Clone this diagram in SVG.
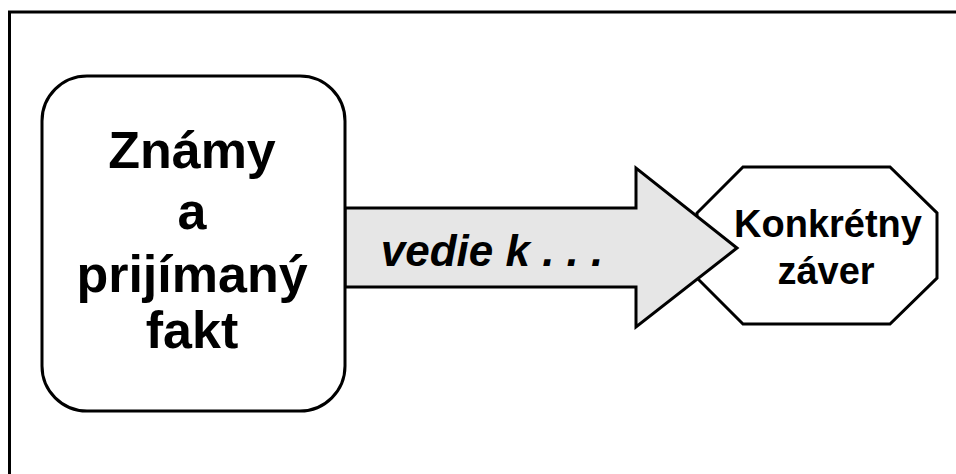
<svg xmlns="http://www.w3.org/2000/svg" width="956" height="474" viewBox="0 0 956 474">
<style>
.t{font-family:"Liberation Sans",Arial,sans-serif;font-weight:bold;fill:#000;text-anchor:middle}
.shape{stroke:#000;stroke-width:3;stroke-linejoin:miter}
</style>
<rect x="0" y="0" width="956" height="474" fill="#fff"/>
<path d="M9.5 474 V12 H956" fill="none" stroke="#000" stroke-width="3"/>
<g id="conclusion">
<polygon class="shape" fill="#fff" points="743,167 890,167 937,213 937,278 890,324 743,324 697,278 697,213"/>
<text class="t" x="828" y="237" font-size="38">Konkrétny</text>
<text class="t" x="826" y="284" font-size="38">záver</text>
</g>
<g id="connectors">
<polygon class="shape" fill="#e6e6e6" points="345,208 636,208 636,168 737,248 636,327 636,287 345,287"/>
<text class="t" x="492" y="266" font-size="44" font-style="italic">vedie k . . .</text>
</g>
<g id="fact">
<rect class="shape" x="42" y="76" width="303" height="335" rx="45" ry="45" fill="#fff"/>
<text class="t" x="192" y="168" font-size="52">Známy</text>
<text class="t" x="192" y="229" font-size="52">a</text>
<text class="t" x="192" y="292" font-size="52">prijímaný</text>
<text class="t" x="192" y="348" font-size="52">fakt</text>
</g>
</svg>
